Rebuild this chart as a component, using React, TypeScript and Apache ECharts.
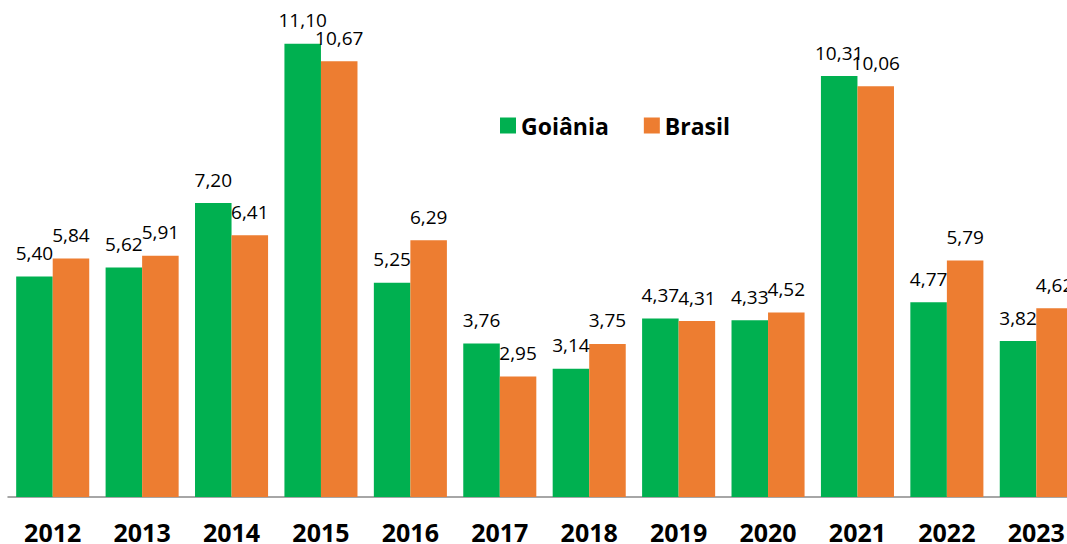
import React, { useEffect, useRef } from "react";
import * as echarts from "echarts";

const years = ["2012", "2013", "2014", "2015", "2016", "2017", "2018", "2019", "2020", "2021", "2022", "2023"];
const goiania = [5.4, 5.62, 7.2, 11.1, 5.25, 3.76, 3.14, 4.37, 4.33, 10.31, 4.77, 3.82];
const brasil = [5.84, 5.91, 6.41, 10.67, 6.29, 2.95, 3.75, 4.31, 4.52, 10.06, 5.79, 4.62];

const fmt = (p: any) => Number(p.value).toFixed(2).replace(".", ",");

export default function App() {
  const ref = useRef<HTMLDivElement>(null);
  useEffect(() => {
    document.body.style.margin = "0";
    document.body.style.overflow = "hidden";
    const chart = echarts.init(ref.current!, null, { renderer: "svg" });
    const labelStyle = {
      show: true,
      position: "top" as const,
      distance: 14,
      formatter: fmt,
      fontSize: 19,
      color: "#000",
      fontFamily: "Open Sans",
    };
    chart.setOption({
      animation: false,
      textStyle: { fontFamily: "Open Sans" },
      legend: {
        left: 495,
        top: 109,
        icon: "rect",
        itemWidth: 16,
        itemHeight: 16,
        itemGap: 35,
        textStyle: { fontSize: 23, fontWeight: "bold", color: "#000", fontFamily: "Open Sans" },
        data: ["Goiânia", "Brasil"],
      },
      grid: { left: 8, top: 7, width: 1073, height: 491, containLabel: false },
      xAxis: {
        type: "category",
        data: years,
        axisLine: { lineStyle: { color: "#898989", width: 1.5 } },
        axisTick: { show: false },
        axisLabel: { fontSize: 25, fontWeight: "bold", color: "#000", margin: 22, fontFamily: "Open Sans" },
      },
      yAxis: {
        type: "value",
        min: 0,
        max: 12,
        show: false,
        splitLine: { show: false },
      },
      series: [
        {
          name: "Goiânia",
          type: "bar",
          data: goiania,
          itemStyle: { color: "#00B050" },
          barGap: "0%",
          barCategoryGap: "18.3%",
          label: labelStyle,
        },
        {
          name: "Brasil",
          type: "bar",
          data: brasil,
          itemStyle: { color: "#ED7D31" },
          barGap: "0%",
          barCategoryGap: "18.3%",
          label: labelStyle,
        },
      ],
    });
    return () => chart.dispose();
  }, []);
  return (
    <div style={{ width: 1067, height: 544, overflow: "hidden", position: "relative" }}>
      <div ref={ref} style={{ width: 1095, height: 544, position: "absolute", left: 0, top: 0 }} />
    </div>
  );
}
